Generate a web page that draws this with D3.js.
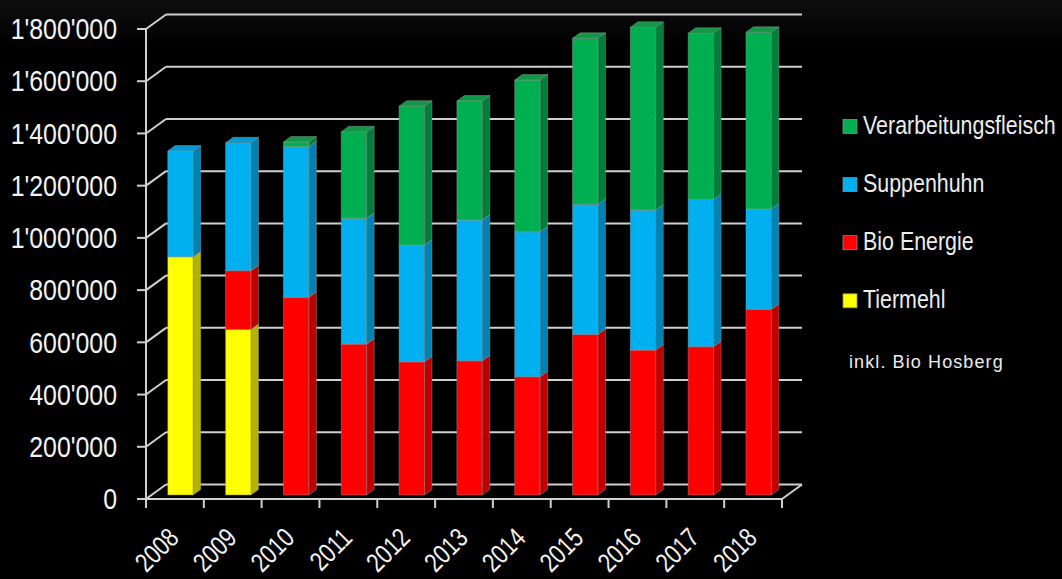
<!DOCTYPE html>
<html>
<head>
<meta charset="utf-8">
<script src="https://cdn.jsdelivr.net/npm/d3@7"></script>
<style>
  body { margin: 0; background: #000; }
  svg { display: block; }
</style>
</head>
<body>
<script>
"use strict";

// data
const years = ["2008", "2009", "2010", "2011", "2012", "2013", "2014", "2015", "2016", "2017", "2018"];
const tiermehl      = [912000, 634000, 0, 0, 0, 0, 0, 0, 0, 0, 0];
const bioEnergie    = [0, 225000, 757000, 578000, 510000, 514000, 453000, 615000, 555000, 568000, 711000];
const suppenhuhn    = [405000, 490000, 577000, 481000, 447000, 539000, 555000, 498000, 536000, 564000, 384000];
const verarbeitung  = [0, 0, 18000, 332000, 532000, 456000, 581000, 636000, 700000, 636000, 677000];
const seriesNames = ["Tiermehl", "Bio Energie", "Suppenhuhn", "Verarbeitungsfleisch"];
const yTicks = [0, 200000, 400000, 600000, 800000, 1000000, 1200000, 1400000, 1600000, 1800000];
const note = "inkl. Bio Hosberg";

const faces = {
  "Tiermehl":             {front: "#ffff00", side: "#b4b400", top: "#d6d600"},
  "Bio Energie":          {front: "#ff0000", side: "#bf0000", top: "#d90000"},
  "Suppenhuhn":           {front: "#00b0f0", side: "#0082b2", top: "#009bd4"},
  "Verarbeitungsfleisch": {front: "#00b050", side: "#007e3a", top: "#109846"}
};

const width = 1062, height = 579;
const DX = 20, DY = -14.5;          // depth of the 3d box
const F1 = 0.28, F2 = 0.655;        // bar depth, as fraction of the box
const NARROW = 0.83;                // the original uses a narrow font
const fmt = v => d3.format(",")(v).replace(/,/g, "'");

const svg = d3.select("body").append("svg")
    .attr("width", width)
    .attr("height", height)
    .style("font-family", "'Liberation Sans', Arial, sans-serif");

const defs = svg.append("defs");
const bg = defs.append("linearGradient").attr("id", "bg")
    .attr("x1", 0).attr("y1", 0).attr("x2", 0).attr("y2", 1);
bg.append("stop").attr("offset", "0").attr("stop-color", "#0e0e0e");
bg.append("stop").attr("offset", "0.08").attr("stop-color", "#000");
bg.append("stop").attr("offset", "1").attr("stop-color", "#000");
svg.append("rect").attr("width", width).attr("height", height).attr("fill", "url(#bg)");

const x = d3.scaleBand().domain(years).range([146, 782]);
const y = d3.scaleLinear().domain([0, 1800000]).range([499, 29]);

const gridColor = "#cfcfcf";
const grid = svg.append("g").attr("stroke", gridColor).attr("stroke-width", 2).attr("fill", "none");

yTicks.forEach(t => {
  const yy = y(t);
  grid.append("line")
      .attr("x1", x.range()[0] + DX).attr("x2", x.range()[1] + DX)
      .attr("y1", yy + DY).attr("y2", yy + DY);
  grid.append("line")
      .attr("x1", x.range()[0]).attr("x2", x.range()[0] + DX)
      .attr("y1", yy).attr("y2", yy + DY);
  grid.append("line")
      .attr("x1", x.range()[0] - 9).attr("x2", x.range()[0])
      .attr("y1", yy).attr("y2", yy);
});

// front axis + floor
grid.append("line")
    .attr("x1", x.range()[0]).attr("x2", x.range()[0])
    .attr("y1", y(1800000)).attr("y2", y(0));
grid.append("line")
    .attr("x1", x.range()[0]).attr("x2", x.range()[1])
    .attr("y1", y(0)).attr("y2", y(0));
grid.append("line")
    .attr("x1", x.range()[1]).attr("x2", x.range()[1] + DX)
    .attr("y1", y(0)).attr("y2", y(0) + DY);

const xTickPos = years.map(d => x(d)).concat([x.range()[1]]);
xTickPos.forEach(p => {
  grid.append("line")
      .attr("x1", p).attr("x2", p)
      .attr("y1", y(0)).attr("y2", y(0) + 9);
});

// y labels
svg.append("g").selectAll("text")
    .data(yTicks)
    .join("text")
    .attr("transform", d => `translate(117,${y(d)}) scale(${NARROW},1)`)
    .attr("dy", "0.34em")
    .attr("text-anchor", "end")
    .attr("fill", "#f2f2f2")
    .attr("font-size", 30)
    .text(d => fmt(d));

// x labels
svg.append("g").selectAll("text")
    .data(years)
    .join("text")
    .attr("text-anchor", "end")
    .attr("transform", d => `translate(${x(d) + x.bandwidth() / 2 + 5.4},${539.5}) rotate(-45) scale(0.8,1)`)
    .attr("fill", "#f2f2f2")
    .attr("font-size", 27)
    .text(d => d);

// bars
const rows = years.map((yr, i) => ({
  year: yr,
  "Tiermehl": tiermehl[i],
  "Bio Energie": bioEnergie[i],
  "Suppenhuhn": suppenhuhn[i],
  "Verarbeitungsfleisch": verarbeitung[i]
}));
const stacked = d3.stack().keys(seriesNames)(rows);

const bw = x.bandwidth() * 0.44;
const bars = svg.append("g")
    .attr("stroke", "#9a9a9a").attr("stroke-opacity", 0.55).attr("stroke-width", 0.8)
    .attr("stroke-linejoin", "round");

years.forEach((yr, i) => {
  const x0 = x(yr) + (x.bandwidth() - bw) / 2 + F1 * DX;
  const x1 = x0 + bw;
  const ox = (F2 - F1) * DX, oy = (F2 - F1) * DY;
  stacked.forEach(layer => {
    const [v0, v1] = layer[i];
    if (v1 - v0 <= 0) return;
    const c = faces[layer.key];
    const yb = y(v0) + F1 * DY, yt = y(v1) + F1 * DY;
    bars.append("rect")
        .attr("x", x0).attr("y", yt)
        .attr("width", bw).attr("height", yb - yt)
        .attr("fill", c.front);
    bars.append("path")
        .attr("d", d3.line()([[x1, yb], [x1 + ox, yb + oy], [x1 + ox, yt + oy], [x1, yt]]) + "Z")
        .attr("fill", c.side);
    bars.append("path")
        .attr("d", d3.line()([[x0, yt], [x1, yt], [x1 + ox, yt + oy], [x0 + ox, yt + oy]]) + "Z")
        .attr("fill", c.top);
  });
});

// legend
const legend = svg.append("g");
const legendItems = seriesNames.slice().reverse();
legendItems.forEach((name, i) => {
  const by = 134 + i * 58.1;
  legend.append("rect")
      .attr("x", 843).attr("y", by - 14.5)
      .attr("width", 14).attr("height", 14)
      .attr("fill", faces[name].front)
      .attr("stroke", "#8a8a8a").attr("stroke-width", 0.8);
  legend.append("text")
      .attr("transform", `translate(863,${by}) scale(0.84,1)`)
      .attr("fill", "#ececec")
      .attr("font-size", 25.5)
      .text(name);
});

legend.append("text")
    .attr("x", 849).attr("y", 368)
    .attr("fill", "#ececec")
    .attr("font-size", 18)
    .attr("letter-spacing", 1.1)
    .text(note);
</script>
</body>
</html>
